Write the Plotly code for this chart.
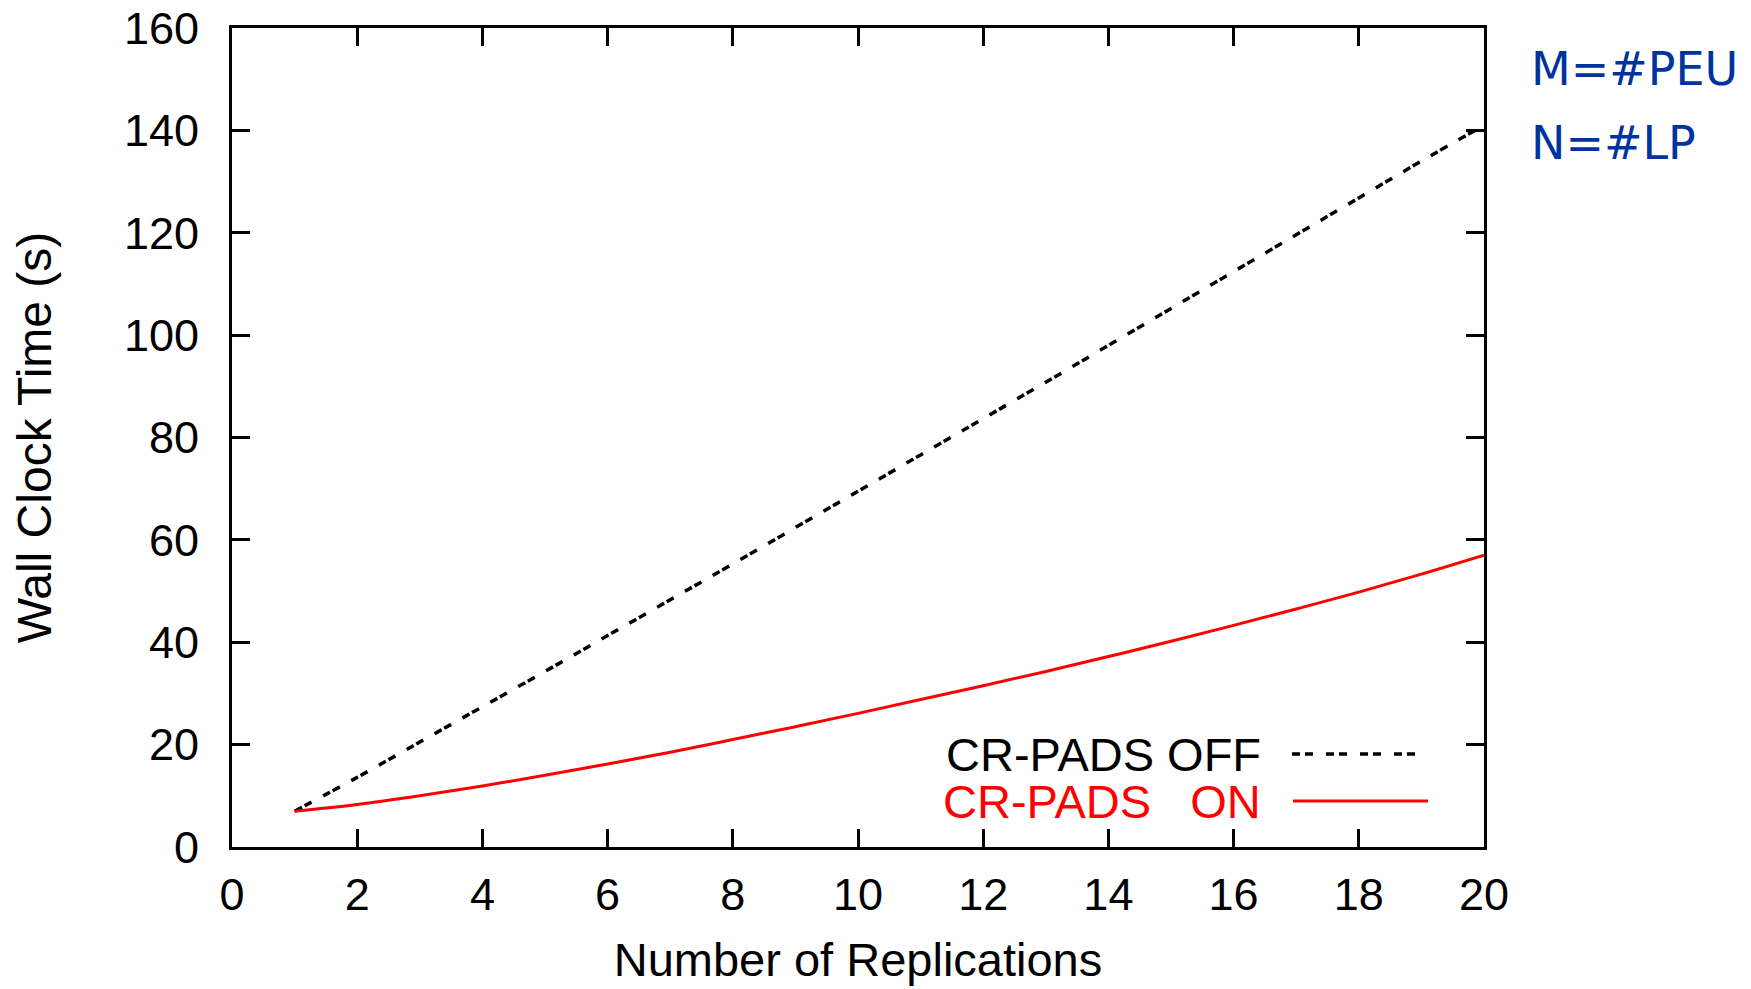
import plotly.graph_objects as go

replications = list(range(1, 21))
crpads_off = [7, 13.6, 20.5, 27.4, 34.3, 41.3, 48.3, 55.3, 62.4, 69.5,
              76.6, 83.7, 90.8, 98.0, 105.2, 112.4, 119.6, 126.8, 134.0, 141.0]
crpads_on = [7, 8.3, 10.0, 11.9, 14.0, 16.2, 18.5, 21.0, 23.5, 26.1,
             28.8, 31.5, 34.3, 37.2, 40.2, 43.3, 46.5, 49.8, 53.3, 57.0]

x_ticks = list(range(0, 21, 2))
y_ticks = list(range(0, 161, 20))

FONT = "Liberation Sans, Arial, sans-serif"
OFF = 8  # page body margin
W, H = 1751 - OFF, 989 - OFF

fig = go.Figure()
fig.add_trace(go.Scatter(x=replications, y=crpads_off, mode="lines",
                         line=dict(color="black", width=3.5, dash="8px,3px,8px,13px", shape="spline"),
                         showlegend=False))
fig.add_trace(go.Scatter(x=replications, y=crpads_on, mode="lines",
                         line=dict(color="#ff0000", width=3, shape="spline"),
                         showlegend=False))

axis_common = dict(showgrid=False, zeroline=False, showline=True, linecolor="black",
                   linewidth=3, mirror="allticks", ticks="inside", ticklen=18,
                   tickwidth=3, tickcolor="black", automargin=False,
                   ticklabeloverflow="allow",
                   tickfont=dict(family=FONT, size=45, color="black"))

fig.update_xaxes(range=[0, 20], tickvals=x_ticks, ticklabelstandoff=6,
                 title=dict(text="Number of Replications", standoff=25,
                            font=dict(family=FONT, size=47, color="black")),
                 **axis_common)
fig.update_yaxes(range=[0, 160], tickvals=y_ticks, ticklabelstandoff=21,
                 title=dict(text="Wall Clock Time (s)", standoff=58,
                            font=dict(family=FONT, size=48, color="black")),
                 **axis_common)

L, R, T, B = 232 - OFF, 1484 - OFF, 28 - OFF, 847 - OFF
def px_x(p):
    return (p - OFF - L) / (R - L)
def px_y(p):
    return (B - (p - OFF)) / (B - T)

# legend (text left, sample right); positions given in target-picture pixels
fig.add_annotation(x=px_x(1263), y=px_y(754), xref="x domain", yref="y domain", text="CR-PADS OFF",
                   showarrow=False, xanchor="right", yanchor="middle",
                   font=dict(family=FONT, size=47, color="black"))
fig.add_annotation(x=px_x(1263), y=px_y(801), xref="x domain", yref="y domain",
                   text="CR-PADS&nbsp;&nbsp;&nbsp;ON",
                   showarrow=False, xanchor="right", yanchor="middle",
                   font=dict(family=FONT, size=47, color="#ff0000"))

fig.add_shape(type="line", xref="x domain", yref="y domain",
              x0=px_x(1292), x1=px_x(1415), y0=px_y(754), y1=px_y(754),
              line=dict(color="black", width=3.5, dash="8px,5px,8px,13px"))
fig.add_shape(type="line", xref="x domain", yref="y domain",
              x0=px_x(1293), x1=px_x(1428), y0=px_y(801), y1=px_y(801),
              line=dict(color="#ff0000", width=3))

fig.add_annotation(x=px_x(1529), y=px_y(69), xref="x domain", yref="y domain",
                   text="M=#PEU", showarrow=False, xanchor="left", yanchor="middle",
                   font=dict(family="DejaVu Sans, sans-serif", size=46, color="#0033a0"))
fig.add_annotation(x=px_x(1529), y=px_y(143), xref="x domain", yref="y domain",
                   text="N=#LP", showarrow=False, xanchor="left", yanchor="middle",
                   font=dict(family="DejaVu Sans, sans-serif", size=46, color="#0033a0"))

fig.update_layout(width=W, height=H, autosize=False,
                  margin=dict(l=L, r=W - R, t=T, b=H - B),
                  paper_bgcolor="white", plot_bgcolor="white")

fig.write_html("out.html")
